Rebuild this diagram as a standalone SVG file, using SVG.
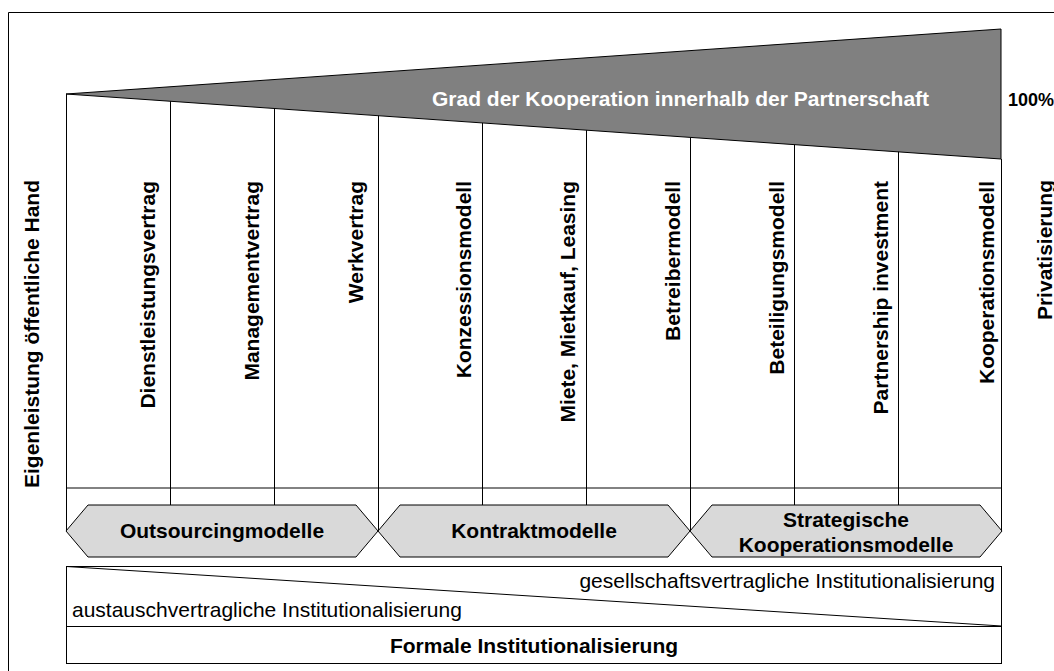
<svg xmlns="http://www.w3.org/2000/svg" width="1054" height="671" viewBox="0 0 1054 671">
<style>
text{font-family:"Liberation Sans",Arial,sans-serif;font-size:21px;fill:#000}
.b{font-weight:bold}
.w{fill:#fff}
.ln{stroke:#000;stroke-width:1;fill:none}
.hx{fill:#d9d9d9;stroke:#000;stroke-width:1}
.gl{stroke:#595959;stroke-width:1.5;fill:none}
</style>
<rect width="1054" height="671" fill="#fff"/>
<path class="ln" d="M8.5,671 V12.5 H1054"/>
<g id="triangle">
<polygon points="66,94 1001,29 1001,159" fill="#808080" stroke="#000" stroke-width="1"/>
<text class="b w" x="432" y="106">Grad der Kooperation innerhalb der Partnerschaft</text>
</g>
<g id="pct"><text class="b" x="1008" y="106" style="font-size:18px">100%</text></g>
<g id="connectors">
<line class="gl" x1="66" y1="488" x2="1002" y2="488"/>
<line class="ln" x1="66.5" y1="94" x2="66.5" y2="531"/>
<line class="ln" x1="170.5" y1="101.2" x2="170.5" y2="505"/>
<line class="ln" x1="274.5" y1="108.5" x2="274.5" y2="505"/>
<line class="ln" x1="378.5" y1="115.7" x2="378.5" y2="531"/>
<line class="ln" x1="482.5" y1="122.9" x2="482.5" y2="505"/>
<line class="ln" x1="586.5" y1="130.2" x2="586.5" y2="505"/>
<line class="ln" x1="690.5" y1="137.4" x2="690.5" y2="531"/>
<line class="ln" x1="794.5" y1="144.6" x2="794.5" y2="505"/>
<line class="ln" x1="898.5" y1="151.8" x2="898.5" y2="505"/>
<line class="ln" x1="1001.5" y1="159" x2="1001.5" y2="531"/>
</g>
<g id="side-left"><text class="b" text-anchor="end" transform="translate(39,180) rotate(-90)">Eigenleistung öffentliche Hand</text></g>
<g id="side-right"><text class="b" text-anchor="end" transform="translate(1052,180) rotate(-90)">Privatisierung</text></g>
<g id="col1"><text class="b" text-anchor="end" transform="translate(155,181) rotate(-90)">Dienstleistungsvertrag</text></g>
<g id="col2"><text class="b" text-anchor="end" transform="translate(259,181) rotate(-90)">Managementvertrag</text></g>
<g id="col3"><text class="b" text-anchor="end" transform="translate(363,181) rotate(-90)">Werkvertrag</text></g>
<g id="col4"><text class="b" text-anchor="end" transform="translate(471,181) rotate(-90)">Konzessionsmodell</text></g>
<g id="col5"><text class="b" text-anchor="end" transform="translate(575,181) rotate(-90)">Miete, Mietkauf, Leasing</text></g>
<g id="col6"><text class="b" text-anchor="end" transform="translate(680,181) rotate(-90)">Betreibermodell</text></g>
<g id="col7"><text class="b" text-anchor="end" transform="translate(784,181) rotate(-90)">Beteiligungsmodell</text></g>
<g id="col8"><text class="b" text-anchor="end" transform="translate(888,181) rotate(-90)">Partnership investment</text></g>
<g id="col9"><text class="b" text-anchor="end" transform="translate(994,181) rotate(-90)">Kooperationsmodell</text></g>
<g id="hex1">
<polygon class="hx" points="66,531 88,505 356,505 378,531 356,557 88,557"/>
<text class="b" x="222" y="538" text-anchor="middle">Outsourcingmodelle</text>
</g>
<g id="hex2">
<polygon class="hx" points="378,531 400,505 668,505 690,531 668,557 400,557"/>
<text class="b" x="534" y="538" text-anchor="middle">Kontraktmodelle</text>
</g>
<g id="hex3">
<polygon class="hx" points="690,531 712,505 980,505 1002,531 980,557 712,557"/>
<text class="b" x="846" y="527" text-anchor="middle">Strategische</text>
<text class="b" x="846" y="552" text-anchor="middle">Kooperationsmodelle</text>
</g>
<g id="institution">
<rect x="66.5" y="566.5" width="935" height="97" fill="#fff" stroke="#000" stroke-width="1"/>
<line class="ln" x1="66.5" y1="566.5" x2="1001.5" y2="626"/>
<line class="ln" x1="66.5" y1="626.5" x2="1001.5" y2="626.5"/>
<text x="995" y="588" text-anchor="end">gesellschaftsvertragliche Institutionalisierung</text>
<text x="72" y="617">austauschvertragliche Institutionalisierung</text>
<text class="b" x="534" y="653" text-anchor="middle">Formale Institutionalisierung</text>
</g>
</svg>
